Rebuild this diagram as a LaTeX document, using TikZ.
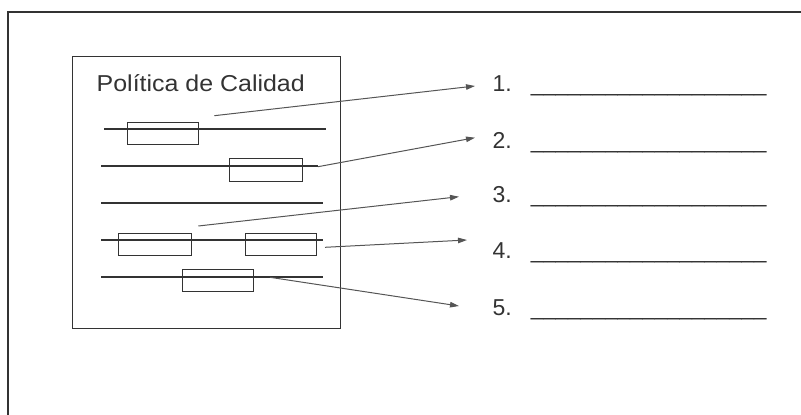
\documentclass[tikz,border=0pt]{standalone}
\usepackage{fontspec}
\setmainfont{Liberation Sans}
\usetikzlibrary{arrows.meta}
\definecolor{ink}{HTML}{333333}
\definecolor{arr}{HTML}{555555}
\tikzset{
  frame/.style={draw=ink, line width=1.4pt},
  rule/.style={draw=ink, line width=1.2pt},
  slot/.style={draw=ink, line width=1pt, fill=none},
  pointer/.style={draw=arr, line width=1pt, -{Triangle[length=9pt,width=5.5pt]}},
  lbl/.style={inner sep=0pt, anchor=base west, text=ink, font=\fontsize{23}{26}\selectfont},
  blank/.style={inner sep=0pt, anchor=base west, text=ink, font=\fontsize{22.3}{26}\selectfont},
}
\begin{document}
\begin{tikzpicture}[x=1pt,y=-1pt]
\useasboundingbox (0,0) rectangle (801,415);
% outer frame (partially visible)
\draw[frame] (8,416) -- (8,12) -- (802,12);
% inner document box
\node[frame, draw, minimum width=268.3pt, minimum height=272pt, inner sep=0pt, anchor=north west] (doc) at (71.7,56) {};
\node[lbl] (title) at (96.5,91) {\scalebox{1.085}[1]{Política de Calidad}};
% text lines
\draw[rule] (104,129) -- (325.7,129);
\draw[rule] (101,166) -- (318,166);
\draw[rule] (101,203) -- (322.7,203);
\draw[rule] (101,240) -- (322.7,240);
\draw[rule] (101,277) -- (322.7,277);
% slots
\node[slot, minimum width=71.3pt, minimum height=22pt, inner sep=0pt] (s1) at (163.3,133.3) {};
\node[slot, minimum width=73pt, minimum height=22.7pt, inner sep=0pt] (s2) at (265.5,170.3) {};
\node[slot, minimum width=73pt, minimum height=22.4pt, inner sep=0pt] (s4a) at (155.2,244.5) {};
\node[slot, minimum width=71.4pt, minimum height=22.4pt, inner sep=0pt] (s4b) at (281,244.5) {};
\node[slot, minimum width=71.3pt, minimum height=22.3pt, inner sep=0pt] (s5) at (217.7,280.2) {};
% connector start and end points
\coordinate (a1) at (214.3,115.7);
\coordinate (a2) at (318,166.7);
\coordinate (a3) at (198.3,226);
\coordinate (a4) at (325,247.3);
\coordinate (a5) at (270,277.3);
\coordinate (t1) at (475,86);
\coordinate (t2) at (475,137.7);
\coordinate (t3) at (459,196.7);
\coordinate (t4) at (467,240);
\coordinate (t5) at (459,306);
% numbered items
\node[lbl] (n1) at (492.5,91.7) {1.};
\node[lbl] (n2) at (492.5,148.3) {2.};
\node[lbl] (n3) at (492.5,202.7) {3.};
\node[lbl] (n4) at (492.5,258.3) {4.};
\node[lbl] (n5) at (492.5,315) {5.};
\node[blank] (b1) at (530.7,91.7) {\_\_\_\_\_\_\_\_\_\_\_\_\_\_\_\_\_\_\_};
\node[blank] (b2) at (530.7,148.3) {\_\_\_\_\_\_\_\_\_\_\_\_\_\_\_\_\_\_\_};
\node[blank] (b3) at (530.7,202.7) {\_\_\_\_\_\_\_\_\_\_\_\_\_\_\_\_\_\_\_};
\node[blank] (b4) at (530.7,258.3) {\_\_\_\_\_\_\_\_\_\_\_\_\_\_\_\_\_\_\_};
\node[blank] (b5) at (530.7,315) {\_\_\_\_\_\_\_\_\_\_\_\_\_\_\_\_\_\_\_};
% arrows
\draw[pointer] (a1) -- (t1);
\draw[pointer] (a2) -- (t2);
\draw[pointer] (a3) -- (t3);
\draw[pointer] (a4) -- (t4);
\draw[pointer] (a5) -- (t5);
\end{tikzpicture}
\end{document}
